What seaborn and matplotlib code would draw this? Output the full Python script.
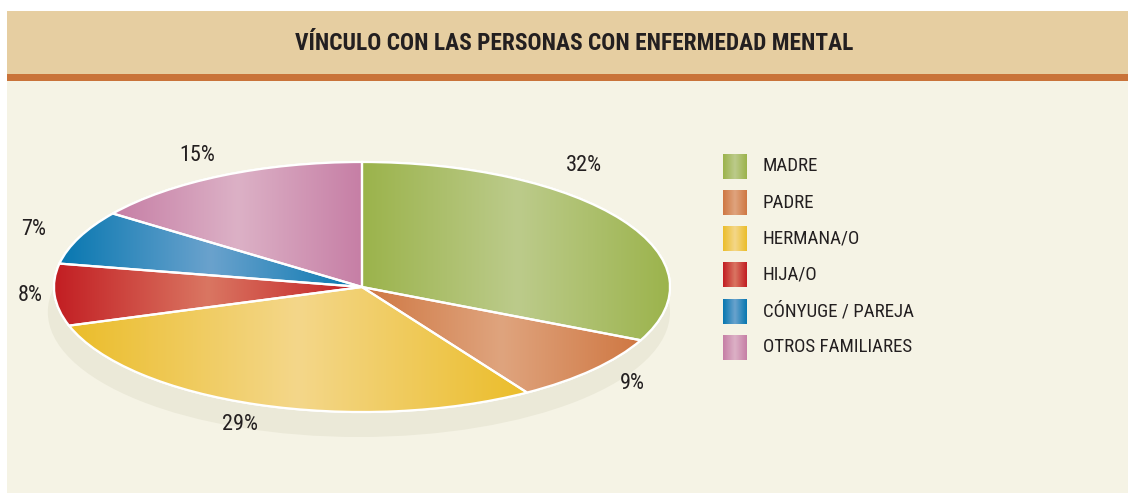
import numpy as np
import matplotlib
matplotlib.use("Agg")
import matplotlib.pyplot as plt
from matplotlib import font_manager
from matplotlib.patches import Rectangle, Ellipse, PathPatch
import seaborn as sns

# ---------------- data ----------------
title = "VÍNCULO CON LAS PERSONAS CON ENFERMEDAD MENTAL"
categories = ["MADRE", "PADRE", "HERMANA/O", "HIJA/O", "CÓNYUGE / PAREJA", "OTROS FAMILIARES"]
values = [32, 9, 29, 8, 7, 15]
pct_labels = ["32%", "9%", "29%", "8%", "7%", "15%"]

# ---------------- style ----------------
edge_colors = ["#9bb34b", "#cf7742", "#ebbd2a", "#c21d22", "#0777b0", "#c67ea5"]
mid_colors = ["#bccb8b", "#dfa47e", "#f4d78a", "#da7662", "#6aa2cd", "#dcb1c6"]
label_angle_shift = [21, 0, 0, 0, 0, 0]
label_dist = [1.21, 1.17, 1.17, 1.08, 1.16, 1.18]

W, H = 1128, 494
sns.set_theme(style="white")
avail = {f.name for f in font_manager.fontManager.ttflist}
prefs = ["Roboto Condensed", "Archivo Narrow", "PT Sans Narrow", "Liberation Sans Narrow",
         "Asap Condensed", "DejaVu Sans"]
narrow = next(p for p in prefs if p in avail)
plt.rcParams["font.family"] = [narrow, "DejaVu Sans"]
text_color = "#231f20"

fig = plt.figure(figsize=(W / 100, H / 100), dpi=100)
fig.patch.set_facecolor("white")


def fx(px):
    return px / W


def fy(py):
    return 1 - py / H


# panel background, header band and stripe
for (top, bot, col) in [(81, 493, "#f5f3e5"), (11, 74, "#e6cea1"), (74, 81, "#c97339")]:
    fig.patches.append(Rectangle((fx(7), fy(bot)), fx(W - 7), (bot - top) / H,
                                 transform=fig.transFigure, facecolor=col,
                                 edgecolor="none", zorder=-10))
fig.text(fx(574), fy(44), title, ha="center", va="center", fontsize=16.8,
         fontweight="bold", color=text_color)

# ---------------- pie ----------------
cx, cy, rx, ry = 362, 287, 308, 125
ax_l, ax_r, ax_t, ax_b = 0, 724, 81, 493
ax = fig.add_axes([fx(ax_l), fy(ax_b), fx(ax_r - ax_l), (ax_b - ax_t) / H])
ax.set_facecolor("none")
ax.axis("off")

wedges, _ = ax.pie(values, startangle=90, counterclock=False, radius=1,
                   colors=edge_colors,
                   wedgeprops=dict(edgecolor="white", linewidth=1.6))
ax.set_aspect("auto")
xl = (ax_l - cx) / rx, (ax_r - cx) / rx
yl = -(ax_b - cy) / ry, (cy - ax_t) / ry

# shadow below pie
shadow = Ellipse((-0.01, -0.2), 2.02, 2.0, facecolor="#ebe9d8", edgecolor="none", zorder=0)
ax.add_patch(shadow)

for w, ec, mc in zip(wedges, edge_colors, mid_colors):
    w.set_zorder(2)
    verts = w.get_path().vertices
    x0, x1 = verts[:, 0].min(), verts[:, 0].max()
    y0, y1 = verts[:, 1].min(), verts[:, 1].max()
    cmap = sns.blend_palette([ec, mc, ec], n_colors=256, as_cmap=True)
    grad = np.linspace(0, 1, 256)[None, :]
    im = ax.imshow(grad, cmap=cmap, extent=[x0, x1, y0, y1], aspect="auto",
                   interpolation="bilinear", zorder=2.5)
    im.set_clip_path(w)
    ax.add_patch(PathPatch(w.get_path(), facecolor="none", edgecolor="white",
                           linewidth=1.6, zorder=3))

ax.set_xlim(*xl)
ax.set_ylim(*yl)

for w, lab, sh, d in zip(wedges, pct_labels, label_angle_shift, label_dist):
    ang = np.deg2rad((w.theta1 + w.theta2) / 2 + sh)
    ax.text(d * np.cos(ang), d * np.sin(ang), lab, ha="center", va="center",
            fontsize=16, color=text_color, zorder=5)

# ---------------- legend ----------------
row_h = 36.2
row0 = 166.3
lg_t = row0 - row_h / 2
lg_b = lg_t + row_h * len(categories)
lg_l, lg_r = 723, 1000
lax = fig.add_axes([fx(lg_l), fy(lg_b), fx(lg_r - lg_l), (lg_b - lg_t) / H])
lax.set_facecolor("none")
lax.axis("off")
half = 12.5 / row_h
for i, (cat, ec, mc) in enumerate(zip(categories, edge_colors, mid_colors)):
    cmap = sns.blend_palette([ec, mc, ec], n_colors=256, as_cmap=True)
    lax.imshow(np.linspace(0, 1, 256)[None, :], cmap=cmap, extent=[0, 24, i + half, i - half],
               aspect="auto", interpolation="bilinear")
    lax.text(40, i, cat, ha="left", va="center", fontsize=13.6, color=text_color)
lax.set_xlim(0, lg_r - lg_l)
lax.set_ylim(len(categories) - 0.5, -0.5)

fig.savefig("out.png", dpi=100, facecolor="white")
